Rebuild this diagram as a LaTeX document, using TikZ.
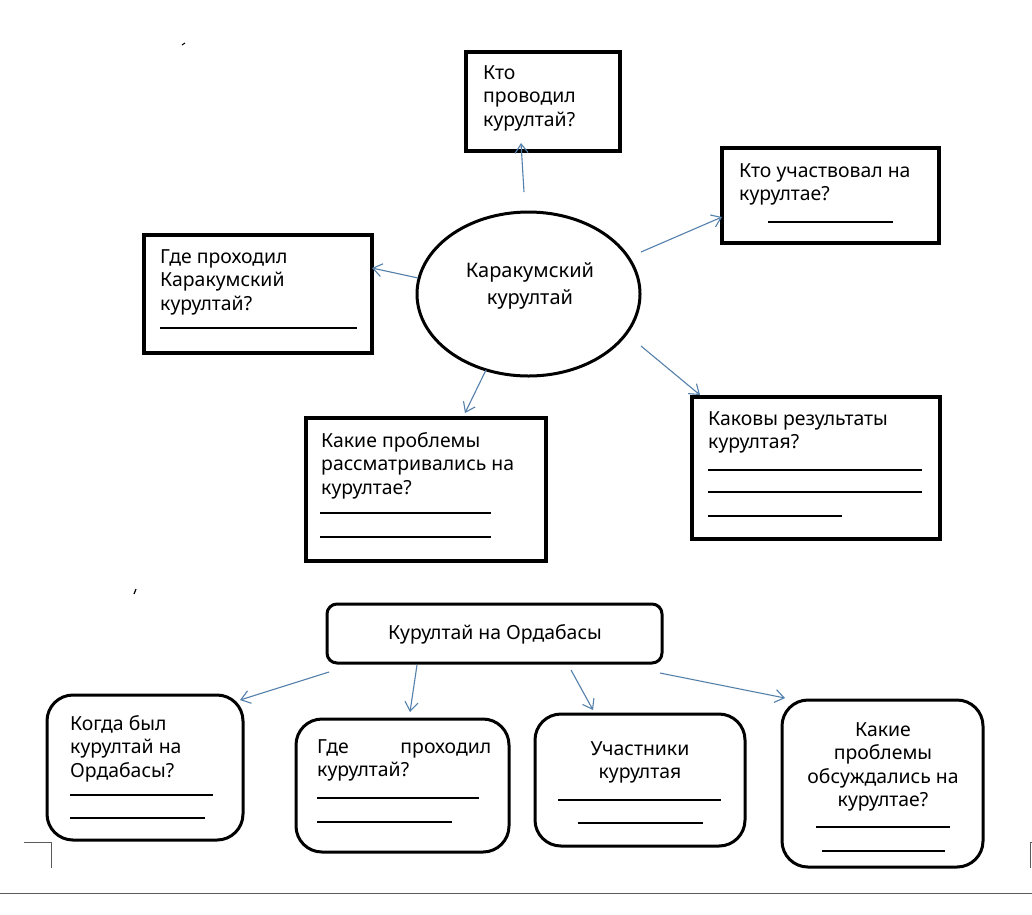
\documentclass[tikz,border=0pt]{standalone}
\usepackage{fontspec}
\setmainfont{Noto Sans}
\usetikzlibrary{arrows.meta,shapes.geometric}
\definecolor{arrowblue}{RGB}{84,128,172}
\definecolor{pagegrey}{RGB}{90,90,90}
\begin{document}
\begin{tikzpicture}[x=1pt,y=-1pt,
  sqbox/.style={draw,line width=3.5pt,rectangle,inner sep=0pt},
  rndbox/.style={draw,line width=3pt,rectangle,rounded corners=26pt,inner sep=0pt},
  txt/.style={inner sep=0pt,font=\fontsize{19.4}{23.5}\selectfont},
  fill line/.style={line width=1.2pt},
  arr/.style={draw=arrowblue,line width=1.1pt,-{Straight Barb[length=9pt,width=13pt]}}]
\useasboundingbox[fill=white] (0,0) rectangle (1032,914);

% top part
\node[sqbox,minimum width=154,minimum height=99] (q1) at (543,101.5) {};
\node[sqbox,minimum width=217,minimum height=95] (q2) at (830.5,195.5) {};
\node[sqbox,minimum width=228,minimum height=118] (q3) at (258,294) {};
\node[sqbox,minimum width=240,minimum height=143] (q4) at (426,489.5) {};
\node[sqbox,minimum width=248,minimum height=142] (q5) at (816,468) {};
\node[draw,line width=3pt,ellipse,inner sep=0pt,minimum width=223,minimum height=164] (ell) at (528.5,294) {};

\node[txt,anchor=north west,align=left] (t1) at (483,65) {Кто\\проводил\\курултай?};
\node[txt,anchor=north west,align=left] (t2) at (739,163) {Кто участвовал на\\курултае?};
\node[txt,anchor=north west,align=left] (t3) at (160,249) {Где проходил\\Каракумский\\курултай?};
\node[txt,anchor=north west,align=left] (t4) at (321,432) {Какие проблемы\\рассматривались на\\курултае?};
\node[txt,anchor=north west,align=left] (t5) at (708,411) {Каковы результаты\\курултая?};
\node[inner sep=0pt,font=\fontsize{20}{27}\selectfont,align=center,anchor=north] (te) at (530,262) {Каракумский\\курултай};

\draw[fill line] (768,222) -- (893,222);
\draw[fill line] (160,328) -- (357,328);
\draw[fill line] (320,513) -- (491,513);
\draw[fill line] (320,537) -- (491,537);
\draw[fill line] (708,470) -- (922,470);
\draw[fill line] (708,492) -- (922,492);
\draw[fill line] (708,516) -- (842,516);

\coordinate (a1s) at (524,192); \coordinate (a1e) at (521,143);
\coordinate (a2s) at (641,252); \coordinate (a2e) at (722,217);
\coordinate (a3s) at (418,278); \coordinate (a3e) at (372,268);
\coordinate (a4s) at (486,370); \coordinate (a4e) at (465,413);
\coordinate (a5s) at (641,346); \coordinate (a5e) at (700,395);
\draw[arr] (a1s) -- (a1e);
\draw[arr] (a2s) -- (a2e);
\draw[arr] (a3s) -- (a3e);
\draw[arr] (a4s) -- (a4e);
\draw[arr] (a5s) -- (a5e);

% bottom part
\node[rndbox,rounded corners=10pt,minimum width=335,minimum height=59] (tt) at (494.5,633.5) {};
\node[txt,font=\fontsize{19.4}{22}\selectfont] (ttl) at (495,634) {Курултай на Ордабасы};
\node[rndbox,minimum width=196,minimum height=145] (r1) at (145,767.5) {};
\node[rndbox,minimum width=213,minimum height=133] (r2) at (402.5,785.5) {};
\node[rndbox,minimum width=210,minimum height=132] (r3) at (640,780) {};
\node[rndbox,minimum width=201,minimum height=167] (r4) at (882.5,783.5) {};

\node[txt,anchor=north west,align=left] (s1) at (70,715) {Когда был\\курултай на\\Ордабасы?};
\node[txt,anchor=north west,align=left,text width=174pt] (s2) at (317,739) {Где \hfill проходил\\курултай?};
\node[txt,anchor=north,align=center] (s3) at (640,741) {Участники\\курултая};
\node[txt,anchor=north,align=center] (s4) at (883,722) {Какие\\проблемы\\обсуждались на\\курултае?};

\draw[fill line] (70,795) -- (213,795);
\draw[fill line] (70,818) -- (205,818);
\draw[fill line] (317,798) -- (479,798);
\draw[fill line] (317,822) -- (452,822);
\draw[fill line] (558,800) -- (721,800);
\draw[fill line] (578,823) -- (703,823);
\draw[fill line] (816,827) -- (950,827);
\draw[fill line] (822,851) -- (945,851);

\coordinate (b1s) at (329,672); \coordinate (b1e) at (240,700);
\coordinate (b2s) at (417,665); \coordinate (b2e) at (410,712);
\coordinate (b3s) at (571,670); \coordinate (b3e) at (593,710);
\coordinate (b4s) at (660,673); \coordinate (b4e) at (785,698);
\draw[arr] (b1s) -- (b1e);
\draw[arr] (b2s) -- (b2e);
\draw[arr] (b3s) -- (b3e);
\draw[arr] (b4s) -- (b4e);

% page marks
\draw[pagegrey,line width=0.8pt] (24,842) -- (51,842) -- (51,868);
\draw[pagegrey,line width=0.8pt] (1032,842) -- (1030,842) -- (1030,868);
\draw[pagegrey,line width=1pt] (0,893) -- (1032,893);
\draw[line width=1pt] (182,45) -- (185,43);
\draw[line width=1.2pt] (134,594) -- (136,589);
\end{tikzpicture}
\end{document}
